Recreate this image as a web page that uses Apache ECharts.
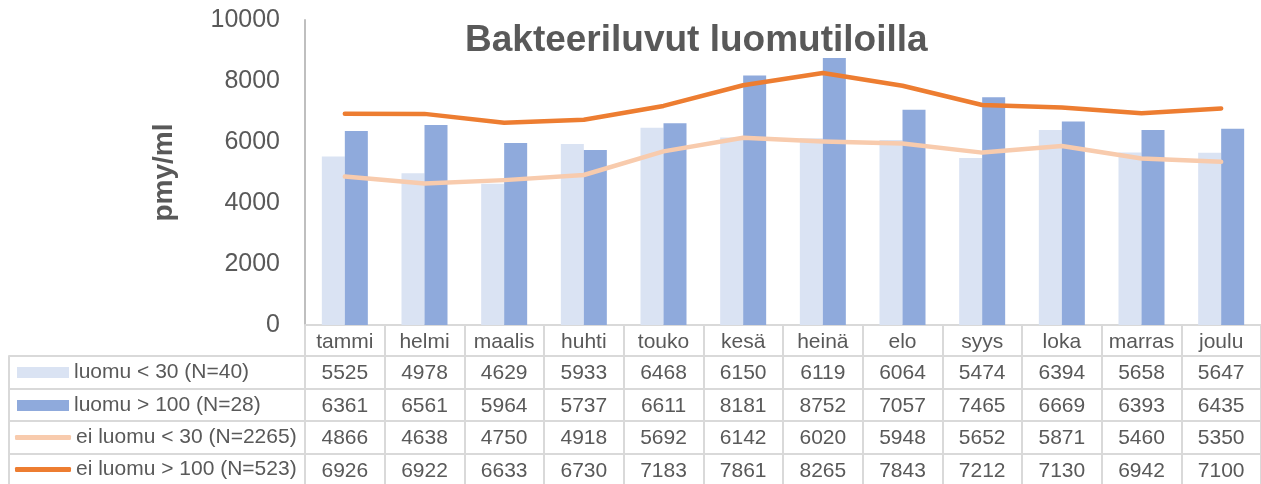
<!DOCTYPE html>
<html>
<head>
<meta charset="utf-8">
<script src="https://cdn.jsdelivr.net/npm/echarts@6/dist/echarts.min.js"></script>
<style>
  html, body { margin: 0; padding: 0; background: #fff; }
  #chart { width: 1261px; height: 484px; }
</style>
</head>
<body>
<div id="chart"></div>
<script>
// kuukaudet ja sarjat
const months = ['tammi', 'helmi', 'maalis', 'huhti', 'touko', 'kesä', 'heinä', 'elo', 'syys', 'loka', 'marras', 'joulu']
const luomuAlle30 = [5525, 4978, 4629, 5933, 6468, 6150, 6119, 6064, 5474, 6394, 5658, 5647]
const luomuYli100 = [6361, 6561, 5964, 5737, 6611, 8181, 8752, 7057, 7465, 6669, 6393, 6435]
const eiLuomuAlle30 = [4866, 4638, 4750, 4918, 5692, 6142, 6020, 5948, 5652, 5871, 5460, 5350]
const eiLuomuYli100 = [6926, 6922, 6633, 6730, 7183, 7861, 8265, 7843, 7212, 7130, 6942, 7100]
const seriesNames = ['luomu < 30 (N=40)', 'luomu > 100 (N=28)', 'ei luomu < 30 (N=2265)', 'ei luomu > 100 (N=523)']
const yTicks = [0, 2000, 4000, 6000, 8000, 10000]

const font = "'Liberation Sans', Arial, sans-serif"
const textColor = '#595959'
const borderColor = '#D9D9D9'

// taulukon rivit (sarakkeiden arvot)
const tableRows = [luomuAlle30, luomuYli100, eiLuomuAlle30, eiLuomuYli100]
const rowOffsets = [31, 64, 96, 129]
const rowHeights = [33, 32, 33, 33]

const chart = echarts.init(document.getElementById('chart'))

const xAxes = [
  {
    type: 'category',
    gridIndex: 0,
    data: months,
    position: 'bottom',
    axisLine: { show: true, onZero: false, lineStyle: { color: borderColor, width: 2 } },
    axisTick: { show: true, length: 31, interval: 0, lineStyle: { color: borderColor, width: 2 } },
    axisLabel: { interval: 0, margin: 7, fontSize: 21, fontFamily: font, color: textColor }
  }
]
tableRows.forEach((row, i) => {
  xAxes.push({
    type: 'category',
    gridIndex: 0,
    data: months,
    position: 'bottom',
    offset: rowOffsets[i],
    axisLine: { show: true, onZero: false, lineStyle: { color: borderColor, width: 2 } },
    axisTick: { show: true, length: rowHeights[i], interval: 0, lineStyle: { color: borderColor, width: 2 } },
    axisLabel: {
      interval: 0, margin: 7, fontSize: 21, fontFamily: font, color: textColor,
      formatter: (v, idx) => String(row[idx])
    }
  })
  // selitesarake
  xAxes.push({
    type: 'category',
    gridIndex: 1,
    data: [''],
    position: 'bottom',
    offset: rowOffsets[i],
    axisLine: { show: true, onZero: false, lineStyle: { color: borderColor, width: 2 } },
    axisTick: { show: true, length: rowHeights[i], interval: 0, lineStyle: { color: borderColor, width: 2 } },
    axisLabel: { show: false }
  })
})

const legendRow = (name, i, isLine) => ({
  data: [name],
  orient: 'horizontal',
  left: isLine ? 15 : 17,
  top: 373 + [0, 33, 65, 97][i] - 11,
  icon: isLine ? 'roundRect' : 'rect',
  itemWidth: isLine ? 56 : 52,
  itemHeight: isLine ? 5 : 11,
  selectedMode: false,
  padding: 0,
  textStyle: { fontSize: 21, fontFamily: font, color: textColor }
})

const option = {
  animation: false,
  title: {
    text: 'Bakteeriluvut luomutiloilla',
    left: 465,
    top: 22,
    padding: 0,
    textStyle: { fontSize: 37, fontWeight: 'bold', fontFamily: font, color: textColor }
  },
  legend: [
    legendRow(seriesNames[0], 0, false),
    legendRow(seriesNames[1], 1, false),
    legendRow(seriesNames[2], 2, true),
    legendRow(seriesNames[3], 3, true)
  ],
  grid: [
    { left: 305, right: 0, top: 20, bottom: 159 },
    { left: 9, width: 296, top: 20, bottom: 159 }
  ],
  xAxis: xAxes,
  yAxis: [
    {
      type: 'value',
      gridIndex: 0,
      min: yTicks[0],
      max: yTicks[yTicks.length - 1],
      interval: 2000,
      name: 'pmy/ml',
      nameLocation: 'middle',
      nameGap: 127,
      nameRotate: 90,
      nameTextStyle: { fontSize: 28, fontWeight: 'bold', fontFamily: font, color: textColor },
      axisLine: { show: true, lineStyle: { color: '#BFBFBF', width: 2 } },
      axisTick: { show: false },
      splitLine: { show: false },
      axisLabel: { margin: 25, fontSize: 25, fontFamily: font, color: textColor, formatter: v => String(v) }
    },
    { type: 'value', gridIndex: 1, min: 0, max: 1, show: false }
  ],
  series: [
    {
      name: seriesNames[0], type: 'bar', xAxisIndex: 0, yAxisIndex: 0,
      data: luomuAlle30, barWidth: 23, barGap: '0%',
      itemStyle: { color: '#DAE3F3' }
    },
    {
      name: seriesNames[1], type: 'bar', xAxisIndex: 0, yAxisIndex: 0,
      data: luomuYli100, barWidth: 23, barGap: '0%',
      itemStyle: { color: '#8FAADC' }
    },
    {
      name: seriesNames[2], type: 'line', xAxisIndex: 0, yAxisIndex: 0,
      data: eiLuomuAlle30, symbol: 'none', z: 3,
      itemStyle: { color: '#F8CBAD' },
      lineStyle: { color: '#F8CBAD', width: 4.5, cap: 'round', join: 'round' }
    },
    {
      name: seriesNames[3], type: 'line', xAxisIndex: 0, yAxisIndex: 0,
      data: eiLuomuYli100, symbol: 'none', z: 4,
      itemStyle: { color: '#ED7D31' },
      lineStyle: { color: '#ED7D31', width: 4.5, cap: 'round', join: 'round' }
    }
  ]
}

chart.setOption(option)
window.addEventListener('resize', () => chart.resize())
</script>
</body>
</html>
